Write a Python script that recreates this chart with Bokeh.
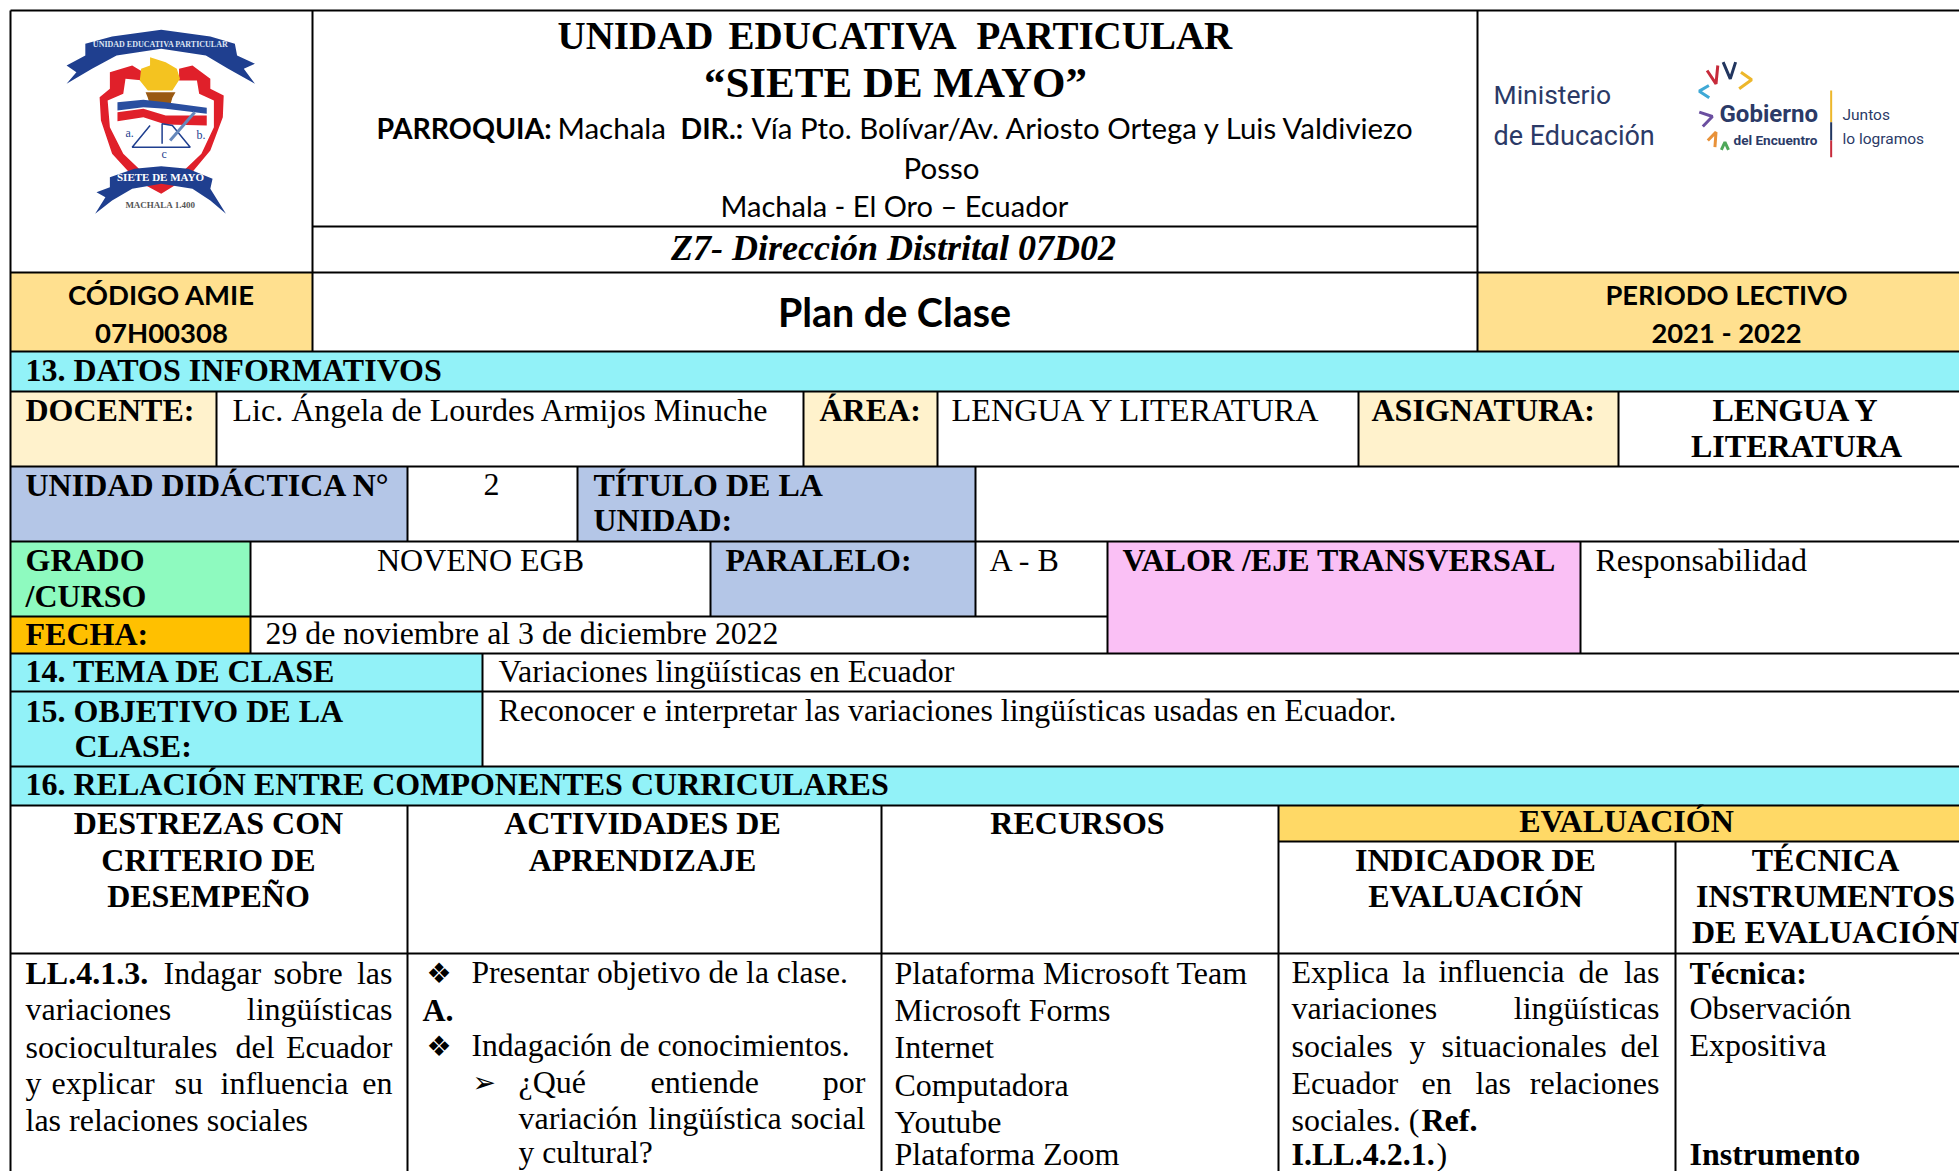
from bokeh.plotting import figure
from bokeh.models import Range1d
from bokeh.core.properties import value
from bokeh.embed import file_html
from bokeh.resources import INLINE

# ---------- content ----------
TITLE = ["UNIDAD", "EDUCATIVA", "PARTICULAR", "“SIETE DE MAYO”"]
ADDRESS = ["PARROQUIA:", "Machala", "DIR.:", "Vía Pto. Bolívar/Av. Ariosto Ortega y Luis Valdiviezo", "Posso", "Machala - El Oro – Ecuador"]
DISTRICT = "Z7- Dirección Distrital 07D02"
PLAN = "Plan de Clase"
AMIE = ["CÓDIGO AMIE", "07H00308"]
PERIOD = ["PERIODO LECTIVO", "2021 - 2022"]
SEC13 = "13. DATOS INFORMATIVOS"
ROW_DOC = ["DOCENTE:", "Lic. Ángela de Lourdes Armijos Minuche", "ÁREA:", "LENGUA Y LITERATURA", "ASIGNATURA:", "LENGUA Y", "LITERATURA"]
ROW_UNI = ["UNIDAD DIDÁCTICA N°", "2", "TÍTULO DE LA", "UNIDAD:"]
ROW_GRA = ["GRADO", "/CURSO", "NOVENO EGB", "PARALELO:", "A - B", "VALOR /EJE TRANSVERSAL", "Responsabilidad"]
ROW_FEC = ["FECHA:", "29 de noviembre al 3 de diciembre 2022"]
SEC14 = ["14. TEMA DE CLASE", "Variaciones lingüísticas en Ecuador"]
SEC15 = ["15. OBJETIVO DE LA", "CLASE:", "Reconocer e interpretar las variaciones lingüísticas usadas en Ecuador."]
SEC16 = "16. RELACIÓN ENTRE COMPONENTES CURRICULARES"
HEAD1 = ["DESTREZAS CON", "CRITERIO DE", "DESEMPEÑO"]
HEAD2 = ["ACTIVIDADES DE", "APRENDIZAJE"]
HEAD3 = "RECURSOS"
HEAD4 = "EVALUACIÓN"
HEAD5 = ["INDICADOR DE", "EVALUACIÓN"]
HEAD6 = ["TÉCNICA", "INSTRUMENTOS", "DE EVALUACIÓN"]
RESOURCES = ["Plataforma Microsoft Team", "Microsoft Forms", "Internet", "Computadora", "Youtube", "Plataforma Zoom"]
TECH = ["Técnica:", "Observación", "Expositiva", "Instrumento"]

# ---------- layout ----------
W, H = 1959, 1171
p = figure(width=W, height=H, x_range=Range1d(0, W), y_range=Range1d(H, 0),
           output_backend="svg", toolbar_location=None, min_border=0)
p.axis.visible = False
p.grid.visible = False
p.outline_line_color = None
R = W
B = H

ORANGE, CYAN, CREAM, PERI, GREEN, AMBER, PINK, YEL = "#FFE08F", "#92F2F8", "#FFF2CC", "#B4C6E7", "#8EFABF", "#FFC000", "#FAC0F5", "#FFD966"
cells = [(10, 312, 272, 351, ORANGE), (1477, R, 272, 351, ORANGE), (10, R, 351, 391, CYAN),
         (10, 216, 391, 466, CREAM), (803, 937, 391, 466, CREAM), (1358, 1618, 391, 466, CREAM),
         (10, 407, 466, 541, PERI), (577, 975, 466, 541, PERI),
         (10, 250, 541, 616, GREEN), (710, 975, 541, 616, PERI), (1107, 1580, 541, 653, PINK),
         (10, 250, 616, 653, AMBER), (10, 482, 653, 766, CYAN), (10, R, 766, 805, CYAN), (1278, R, 805, 841, YEL)]
p.quad(left=[c[0] for c in cells], right=[c[1] for c in cells], top=[c[2] for c in cells],
       bottom=[c[3] for c in cells], fill_color=[c[4] for c in cells], line_color=None)

hl = [(10, R, 10), (312, 1477, 226), (10, R, 272), (10, R, 351), (10, R, 391), (10, R, 466), (10, R, 541),
      (10, 1107, 616), (10, R, 653), (10, R, 691), (10, R, 766), (10, R, 805), (1278, R, 841), (10, R, 953)]
vl = [(10, 10, B), (312, 10, 351), (1477, 10, 351), (216, 391, 466), (803, 391, 466), (937, 391, 466),
      (1358, 391, 466), (1618, 391, 466), (407, 466, 541), (577, 466, 541), (975, 466, 616),
      (250, 541, 653), (710, 541, 616), (1107, 541, 653), (1580, 541, 653), (482, 653, 766),
      (407, 805, B), (881, 805, B), (1278, 805, B), (1675, 841, B)]
p.segment(x0=[h[0] for h in hl], x1=[h[1] for h in hl], y0=[h[2] for h in hl], y1=[h[2] for h in hl],
          line_color="black", line_width=2)
p.segment(x0=[v[0] for v in vl], x1=[v[0] for v in vl], y0=[v[1] for v in vl], y1=[v[2] for v in vl],
          line_color="black", line_width=2)

# ---------- logos ----------
def Z(pts):
    return [q[0] / 2.24 for q in pts], [q[1] / 3 for q in pts]
def Z2(pts):
    return [1400 + q[0] / 2.805 for q in pts], [q[1] / 3 for q in pts]
def shape(pts, color):
    xs, ys = Z(pts)
    p.patch(xs, ys, fill_color=color, line_color=None)
BLUE, RED = "#1F3F8F", "#E0202A"
shape([(190,130),(250,108),(360,88),(470,108),(525,130),(530,165),(570,190),(545,205),(570,250),(510,205),(460,165),(360,145),(260,165),(205,205),(148,250),(170,215),(148,195),(190,165)], BLUE)
shape([(222,290),(245,265),(245,215),(295,195),(320,215),(320,240),(280,235),(275,280),(240,300),(245,380),(275,460),(330,530),(360,545),(395,530),(450,460),(478,380),(478,300),(445,280),(440,240),(400,240),(400,205),(430,195),(470,235),(470,265),(500,285),(498,350),(470,450),(420,530),(360,580),(305,540),(250,460),(225,360)], RED)
shape([(335,170),(370,185),(395,205),(402,235),(385,270),(330,270),(312,240),(315,205),(335,195)], "#F4C320")
shape([(325,275),(392,275),(385,292),(380,315),(335,315),(330,292)], "#9A5A12")
shape([(262,305),(320,298),(370,305),(462,322),(462,340),(370,325),(320,320),(262,330)], "#2A4FA0")
shape([(262,335),(320,325),(370,345),(462,345),(462,375),(370,372),(320,350),(262,362)], RED)
xs, ys = Z([(335,375),(295,440),(425,440),(385,375),(362,370),(362,430)])
p.line(xs, ys, line_color=BLUE, line_width=1.5)
xs, ys = Z([(380,420),(435,335)])
p.line(xs, ys, line_color="#6688BB", line_width=3)
shape([(245,530),(300,505),(360,497),(420,505),(475,535),(470,565),(505,640),(470,600),(430,565),(360,550),(295,565),(250,600),(212,640),(235,590),(215,575),(245,560)], BLUE)

chev = [(905,185,925,235,940,185,"#22365F"), (860,210,885,250,890,195,"#C72B3B"), (950,265,985,238,955,215,"#EDB72B"),
        (865,255,838,272,866,292,"#3FA9D6"), (838,335,875,348,848,378,"#6B4FA0"), (862,420,885,395,882,440,"#E8923A"),
        (900,448,910,425,920,448,"#4FA85A")]
for c in chev:
    xs, ys = Z2([(c[0], c[1]), (c[2], c[3]), (c[4], c[5])])
    p.line(xs, ys, line_color=c[6], line_width=3)
xs, ys = Z2([(1208,270),(1208,365)]); p.line(xs, ys, line_color="#EDB72B", line_width=2)
xs, ys = Z2([(1208,365),(1208,420)]); p.line(xs, ys, line_color="#22365F", line_width=2)
xs, ys = Z2([(1208,420),(1208,470)]); p.line(xs, ys, line_color="#C72B3B", line_width=2)

# ---------- text ----------
SERIF, SANS = "Liberation Serif", "Lato"
def put(t, x, y, size, bold=False, align="left", font=SERIF, italic=False, color="black"):
    style = ("bold " if bold else "") + ("italic" if italic else "")
    p.text(x=[x - 1], y=[y - 0.34 * size], text=[t], text_font=value(font), text_font_size=value(f"{size}px"),
           text_font_style=style.strip() or "normal", text_align=align, text_baseline="alphabetic", text_color=color)

put("UNIDAD EDUCATIVA PARTICULAR", 161, 47, 8, True, "center", color="#DDE4F2")
put("SIETE DE MAYO", 161, 180, 11, True, "center", color="#FFFFFF")
put("MACHALA  1.400", 162, 208, 9, True, "center", color="#555555")
put("a.", 126, 137, 12, color=BLUE); put("b.", 197, 139, 12, color=BLUE); put("c", 162, 158, 12, color=BLUE)

put(TITLE[0], 558, 48, 39, True); put(TITLE[1], 729, 48, 39, True); put(TITLE[2], 977, 48, 39, True)
put(TITLE[3], 896, 97, 43, True, "center")
put(ADDRESS[0], 377, 137, 28.5, True, font=SANS)
put(ADDRESS[1], 558, 137, 29.5, font=SANS)
put(ADDRESS[2], 681, 137, 28.5, True, font=SANS)
put(ADDRESS[3], 752, 137, 29.4, font=SANS)
put(ADDRESS[4], 942, 177, 29.5, align="center", font=SANS)
put(ADDRESS[5], 895, 215, 29, align="center", font=SANS)
put(DISTRICT, 894, 260, 36, True, "center", italic=True)
put(PLAN, 895, 324, 39.4, True, "center", font=SANS)
put(AMIE[0], 162, 303, 27.5, True, "center", font=SANS)
put(AMIE[1], 162, 341, 27.5, True, "center", font=SANS)
put(PERIOD[0], 1727, 303, 27.3, True, "center", font=SANS)
put(PERIOD[1], 1727, 341, 27.3, True, "center", font=SANS)

NAVY = "#2B3A67"
put("Ministerio", 1494, 103, 26.5, font="Roboto", color=NAVY)
put("de Educación", 1494, 145, 27, font="Roboto", color=NAVY)
put("Gobierno", 1720, 122, 24, True, font="Roboto", color=NAVY)
put("del Encuentro", 1734, 144, 13.6, True, font="Roboto", color=NAVY)
put("Juntos", 1843, 120, 15.5, font="Roboto", color=NAVY)
put("lo logramos", 1843, 144, 15.5, font="Roboto", color=NAVY)

S = 32
put(SEC13, 26, 380, S, True)
put(ROW_DOC[0], 26, 420, S, True); put(ROW_DOC[1], 233, 420, S)
put(ROW_DOC[2], 820, 420, S, True); put(ROW_DOC[3], 952, 420, 32.3)
put(ROW_DOC[4], 1372, 420, S, True); put(ROW_DOC[5], 1797, 420, S, True, "center"); put(ROW_DOC[6], 1797, 456, S, True, "center")
put(ROW_UNI[0], 26, 495, S, True); put(ROW_UNI[1], 492, 495, S, align="center")
put(ROW_UNI[2], 594, 495, S, True); put(ROW_UNI[3], 594, 530, S, True)
put(ROW_GRA[0], 26, 570, S, True); put(ROW_GRA[1], 26, 606, S, True); put(ROW_GRA[2], 481, 570, S, align="center")
put(ROW_GRA[3], 726, 570, S, True); put(ROW_GRA[4], 990, 570, S)
put(ROW_GRA[5], 1123, 570, S, True); put(ROW_GRA[6], 1596, 570, S)
put(ROW_FEC[0], 26, 644, S, True); put(ROW_FEC[1], 266, 644, 31.8)
put(SEC14[0], 26, 681, S, True); put(SEC14[1], 499, 681, S)
put(SEC15[0], 26, 721, S, True); put(SEC15[1], 75, 756, S, True); put(SEC15[2], 499, 721, 31.8)
put(SEC16, 26, 794, S, True)

for t, y in zip(HEAD1, (833, 870, 906)): put(t, 209, y, S, True, "center")
for t, y in zip(HEAD2, (833, 870)): put(t, 643, y, S, True, "center")
put(HEAD3, 1078, 833, S, True, "center")
put(HEAD4, 1627, 831, S, True, "center")
for t, y in zip(HEAD5, (870, 906)): put(t, 1476, y, S, True, "center")
for t, y in zip(HEAD6, (870, 906, 942)): put(t, 1826, y, S, True, "center")

# body, justified word by word
put("LL.4.1.3.", 26, 983, S, True); put("Indagar", 164, 983, S); put("sobre", 274, 983, S); put("las", 393, 983, S, align="right")
put("variaciones", 26, 1019, S); put("lingüísticas", 393, 1019, S, align="right")
put("socioculturales", 26, 1057, S); put("del", 236, 1057, S); put("Ecuador", 393, 1057, S, align="right")
put("y", 26, 1093, S); put("explicar", 52, 1093, S); put("su", 175, 1093, S); put("influencia", 221, 1093, S); put("en", 393, 1093, S, align="right")
put("las relaciones sociales", 26, 1130, S)

put("❖", 427, 983, 28, font="DejaVu Sans"); put("Presentar objetivo de la clase.", 472, 983, 31.6)
put("A.", 423, 1020, S, True)
put("❖", 427, 1056, 28, font="DejaVu Sans"); put("Indagación de conocimientos.", 472, 1056, 31.6)
put("➢", 473, 1092, 28, font="DejaVu Sans"); put("¿Qué", 519, 1092, S); put("entiende", 651, 1092, S); put("por", 866, 1092, S, align="right")
put("variación", 519, 1128, S); put("lingüística", 649, 1128, S); put("social", 866, 1128, S, align="right")
put("y cultural?", 519, 1163, 31.6)

for t, y in zip(RESOURCES, (983, 1020, 1057, 1095, 1132, 1164)): put(t, 895, y, S)

put("Explica", 1292, 982, S); put("la", 1403, 982, S); put("influencia", 1439, 982, 31.5); put("de", 1579, 982, S); put("las", 1660, 982, S, align="right")
put("variaciones", 1292, 1018, S); put("lingüísticas", 1660, 1018, S, align="right")
put("sociales", 1292, 1056, S); put("y", 1410, 1056, S); put("situacionales", 1442, 1056, S); put("del", 1660, 1056, S, align="right")
put("Ecuador", 1292, 1093, S); put("en", 1422, 1093, S); put("las", 1476, 1093, S); put("relaciones", 1660, 1093, S, align="right")
put("sociales. (", 1292, 1130, S); put("Ref.", 1422, 1130, S, True)
put("I.LL.4.2.1.", 1292, 1164, S, True); put(")", 1437, 1164, S)

put(TECH[0], 1690, 983, S, True); put(TECH[1], 1690, 1018, S); put(TECH[2], 1690, 1055, S); put(TECH[3], 1690, 1164, S, True)

open("out.html", "w").write(file_html(p, INLINE))
